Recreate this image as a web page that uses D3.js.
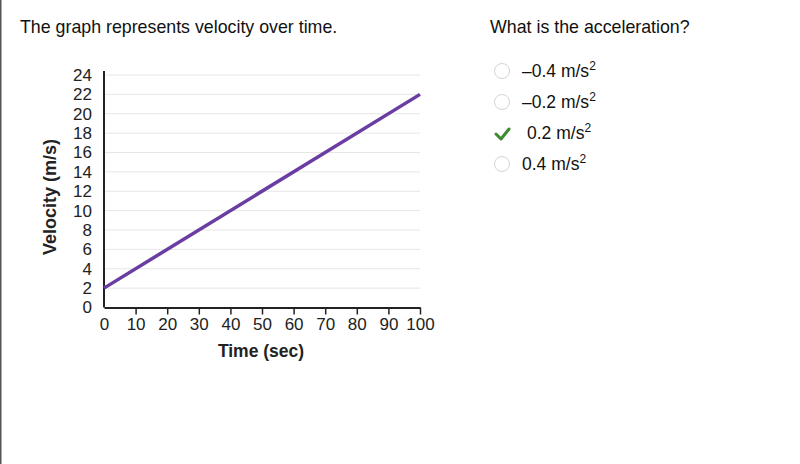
<!DOCTYPE html>
<html><head><meta charset="utf-8">
<script src="https://cdn.jsdelivr.net/npm/d3@7"></script>
<style>body{margin:0;background:#fff;} svg{display:block;font-family:"Liberation Sans",Arial,sans-serif;}</style>
</head><body>
<svg id="c" width="800" height="464"></svg>
<script>
const timeValues = [0, 100];
const velocityValues = [2, 22];
const xTickValues = [0,10,20,30,40,50,60,70,80,90,100];
const yTickValues = [0,2,4,6,8,10,12,14,16,18,20,22,24];
const options = ["\u20130.4", "\u20130.2", "0.2", "0.4"];
const correctIndex = 2;

const svg = d3.select("#c");
svg.append("rect").attr("x",0).attr("y",0).attr("width",1.5).attr("height",464).attr("fill","#555");

svg.append("text").attr("x",20).attr("y",33).attr("font-size",17.8).attr("fill","#111")
  .text("The graph represents velocity over time.");
svg.append("text").attr("x",490).attr("y",33).attr("font-size",17.8).attr("fill","#111")
  .text("What is the acceleration?");

const x = d3.scaleLinear().domain([0,100]).range([104,420]);
const y = d3.scaleLinear().domain([0,24]).range([307.5,75]);

// grid
svg.append("g").selectAll("line").data(yTickValues.filter(d=>d>0)).join("line")
  .attr("x1",x(0)).attr("x2",x(100)).attr("y1",d=>y(d)).attr("y2",d=>y(d))
  .attr("stroke","#e6e6e6").attr("stroke-width",1);

// y axis
const yAxis = svg.append("g").attr("transform",`translate(${x(0)},0)`)
  .call(d3.axisLeft(y).tickValues(yTickValues).tickSize(0).tickPadding(12));
yAxis.select(".domain").remove();
yAxis.selectAll("text").attr("font-size",17).attr("fill","#222").attr("font-family","Liberation Sans, Arial, sans-serif");
svg.append("line").attr("x1",x(0)).attr("x2",x(0)).attr("y1",71).attr("y2",y(0))
  .attr("stroke","#222").attr("stroke-width",2);

// x axis
const xAxis = svg.append("g").attr("transform",`translate(0,${y(0)})`)
  .call(d3.axisBottom(x).tickValues(xTickValues).tickSize(7).tickSizeOuter(0).tickPadding(3));
xAxis.select(".domain").attr("stroke","#222").attr("stroke-width",2);
xAxis.selectAll(".tick line").attr("stroke","#222").attr("stroke-width",1.5);
xAxis.selectAll(".tick").filter(d=>d===0).select("line").remove();
xAxis.selectAll("text").attr("font-size",17).attr("fill","#222").attr("font-family","Liberation Sans, Arial, sans-serif");

// line
const data = timeValues.map((t,i)=>({t, v: velocityValues[i]}));
svg.append("path").datum(data)
  .attr("d", d3.line().x(d=>x(d.t)).y(d=>y(d.v)))
  .attr("fill","none").attr("stroke","#6a3da3").attr("stroke-width",3.5);

// labels
svg.append("text").attr("x",261).attr("y",357).attr("text-anchor","middle")
  .attr("font-size",17.5).attr("font-weight","bold").attr("fill","#222").text("Time (sec)");
svg.append("text").attr("transform","translate(56,197) rotate(-90)").attr("text-anchor","middle")
  .attr("font-size",18).attr("font-weight","bold").attr("fill","#222").text("Velocity (m/s)");

// options
const oy = d3.scalePoint().domain(d3.range(options.length)).range([71,164]);
const og = svg.append("g").selectAll("g").data(options).join("g")
  .attr("transform",(d,i)=>`translate(0,${oy(i)})`);
og.each(function(d,i){
  const g = d3.select(this);
  if (i===correctIndex){
    g.append("path").attr("d","M496,1 L501,6 L509,-4").attr("fill","none")
      .attr("stroke","#3d8b2f").attr("stroke-width",3).attr("stroke-linecap","round").attr("stroke-linejoin","round");
  } else {
    g.append("circle").attr("cx",502).attr("cy",0).attr("r",7.5)
      .attr("fill","#fff").attr("stroke","#d4d4d4").attr("stroke-width",1);
  }
  const t = g.append("text").attr("x", i===correctIndex?527:522).attr("y",6)
    .attr("font-size",17.5).attr("fill","#111");
  t.append("tspan").text(d+" m/s");
  t.append("tspan").attr("dy",-7.5).attr("font-size",12).text("2");
});
</script>
</body></html>
